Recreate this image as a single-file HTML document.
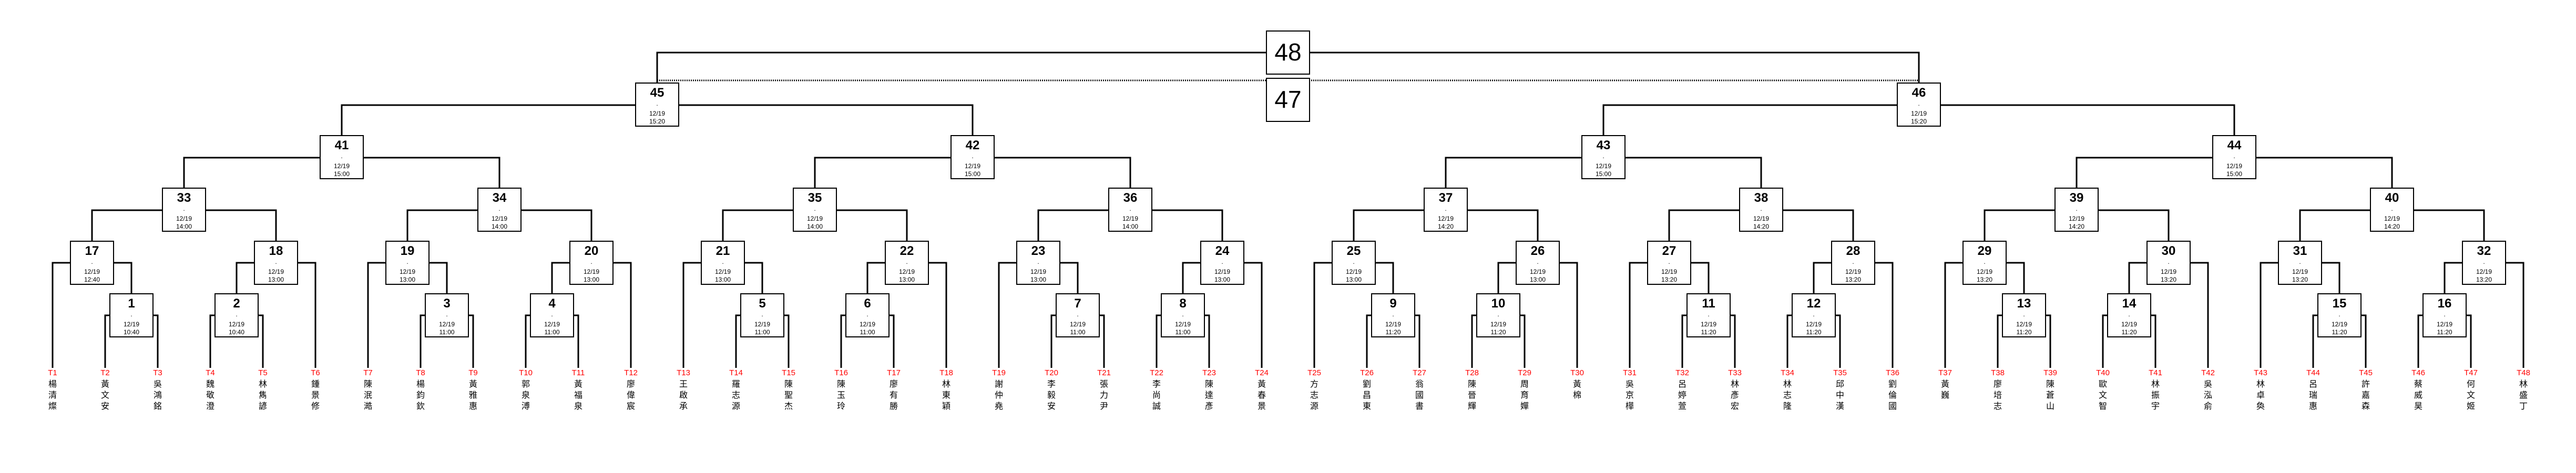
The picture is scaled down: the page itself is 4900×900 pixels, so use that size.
<!DOCTYPE html>
<html><head><meta charset="utf-8">
<style>
html,body{margin:0;padding:0;background:#fff;}
body{width:4900px;height:900px;position:relative;overflow:hidden;font-family:"Liberation Sans","Noto Sans CJK TC",sans-serif;}
svg{position:absolute;left:0;top:0;}
svg text{text-anchor:middle;font-family:"Liberation Sans",sans-serif;}
.n{font-size:24px;font-weight:bold;}
.s{font-size:12px;}
.t{font-size:15px;fill:#f00;}
.nm{position:absolute;top:719px;width:16px;font-size:16px;line-height:21px;text-align:center;font-family:"Noto Sans CJK TC","WenQuanYi Zen Hei",sans-serif;color:#000;}
</style></head><body>
<svg width="4900" height="900" xmlns="http://www.w3.org/2000/svg">
<g fill="none" stroke="#000" stroke-width="3">
<path d="M1250 158V100H3650V158"/>
<path d="M1250 153H3650" stroke-dasharray="2 2"/>
<path d="M650 258V200H1850V258M3050 258V200H4250V258"/>
<path d="M350 358V300H950V358M1550 358V300H2150V358M2750 358V300H3350V358M3950 358V300H4550V358"/>
<g id="gp"><path d="M200 700V600H300V700M400 700V600H500V700M100 700V500H250V559M450 559V500H600V700M175 459V400H525V459"/></g>
<g transform="translate(600,0)"><path d="M200 700V600H300V700M400 700V600H500V700M100 700V500H250V559M450 559V500H600V700M175 459V400H525V459"/></g>
<g transform="translate(1200,0)"><path d="M200 700V600H300V700M400 700V600H500V700M100 700V500H250V559M450 559V500H600V700M175 459V400H525V459"/></g>
<g transform="translate(1800,0)"><path d="M200 700V600H300V700M400 700V600H500V700M100 700V500H250V559M450 559V500H600V700M175 459V400H525V459"/></g>
<g transform="translate(2400,0)"><path d="M200 700V600H300V700M400 700V600H500V700M100 700V500H250V559M450 559V500H600V700M175 459V400H525V459"/></g>
<g transform="translate(3000,0)"><path d="M200 700V600H300V700M400 700V600H500V700M100 700V500H250V559M450 559V500H600V700M175 459V400H525V459"/></g>
<g transform="translate(3600,0)"><path d="M200 700V600H300V700M400 700V600H500V700M100 700V500H250V559M450 559V500H600V700M175 459V400H525V459"/></g>
<g transform="translate(4200,0)"><path d="M200 700V600H300V700M400 700V600H500V700M100 700V500H250V559M450 559V500H600V700M175 459V400H525V459"/></g>
</g>
<g>
<rect x="2409" y="59" width="82" height="82" fill="#fff" stroke="#000" stroke-width="2"/>
<text x="2450" y="115" font-size="46">48</text>
<rect x="2409" y="149" width="82" height="82" fill="#fff" stroke="#000" stroke-width="2"/>
<text x="2450" y="205" font-size="46">47</text>
</g>
<g id="boxes">
<g transform="translate(250,559)"><rect x="-41" width="82" height="82" fill="#fff" stroke="#000" stroke-width="2"/><text y="26" class="n">1</text><text y="43" class="s">.</text><text y="62" class="s">12/19</text><text y="77" class="s">10:40</text></g>
<g transform="translate(450,559)"><rect x="-41" width="82" height="82" fill="#fff" stroke="#000" stroke-width="2"/><text y="26" class="n">2</text><text y="43" class="s">.</text><text y="62" class="s">12/19</text><text y="77" class="s">10:40</text></g>
<g transform="translate(850,559)"><rect x="-41" width="82" height="82" fill="#fff" stroke="#000" stroke-width="2"/><text y="26" class="n">3</text><text y="43" class="s">.</text><text y="62" class="s">12/19</text><text y="77" class="s">11:00</text></g>
<g transform="translate(1050,559)"><rect x="-41" width="82" height="82" fill="#fff" stroke="#000" stroke-width="2"/><text y="26" class="n">4</text><text y="43" class="s">.</text><text y="62" class="s">12/19</text><text y="77" class="s">11:00</text></g>
<g transform="translate(1450,559)"><rect x="-41" width="82" height="82" fill="#fff" stroke="#000" stroke-width="2"/><text y="26" class="n">5</text><text y="43" class="s">.</text><text y="62" class="s">12/19</text><text y="77" class="s">11:00</text></g>
<g transform="translate(1650,559)"><rect x="-41" width="82" height="82" fill="#fff" stroke="#000" stroke-width="2"/><text y="26" class="n">6</text><text y="43" class="s">.</text><text y="62" class="s">12/19</text><text y="77" class="s">11:00</text></g>
<g transform="translate(2050,559)"><rect x="-41" width="82" height="82" fill="#fff" stroke="#000" stroke-width="2"/><text y="26" class="n">7</text><text y="43" class="s">.</text><text y="62" class="s">12/19</text><text y="77" class="s">11:00</text></g>
<g transform="translate(2250,559)"><rect x="-41" width="82" height="82" fill="#fff" stroke="#000" stroke-width="2"/><text y="26" class="n">8</text><text y="43" class="s">.</text><text y="62" class="s">12/19</text><text y="77" class="s">11:00</text></g>
<g transform="translate(2650,559)"><rect x="-41" width="82" height="82" fill="#fff" stroke="#000" stroke-width="2"/><text y="26" class="n">9</text><text y="43" class="s">.</text><text y="62" class="s">12/19</text><text y="77" class="s">11:20</text></g>
<g transform="translate(2850,559)"><rect x="-41" width="82" height="82" fill="#fff" stroke="#000" stroke-width="2"/><text y="26" class="n">10</text><text y="43" class="s">.</text><text y="62" class="s">12/19</text><text y="77" class="s">11:20</text></g>
<g transform="translate(3250,559)"><rect x="-41" width="82" height="82" fill="#fff" stroke="#000" stroke-width="2"/><text y="26" class="n">11</text><text y="43" class="s">.</text><text y="62" class="s">12/19</text><text y="77" class="s">11:20</text></g>
<g transform="translate(3450,559)"><rect x="-41" width="82" height="82" fill="#fff" stroke="#000" stroke-width="2"/><text y="26" class="n">12</text><text y="43" class="s">.</text><text y="62" class="s">12/19</text><text y="77" class="s">11:20</text></g>
<g transform="translate(3850,559)"><rect x="-41" width="82" height="82" fill="#fff" stroke="#000" stroke-width="2"/><text y="26" class="n">13</text><text y="43" class="s">.</text><text y="62" class="s">12/19</text><text y="77" class="s">11:20</text></g>
<g transform="translate(4050,559)"><rect x="-41" width="82" height="82" fill="#fff" stroke="#000" stroke-width="2"/><text y="26" class="n">14</text><text y="43" class="s">.</text><text y="62" class="s">12/19</text><text y="77" class="s">11:20</text></g>
<g transform="translate(4450,559)"><rect x="-41" width="82" height="82" fill="#fff" stroke="#000" stroke-width="2"/><text y="26" class="n">15</text><text y="43" class="s">.</text><text y="62" class="s">12/19</text><text y="77" class="s">11:20</text></g>
<g transform="translate(4650,559)"><rect x="-41" width="82" height="82" fill="#fff" stroke="#000" stroke-width="2"/><text y="26" class="n">16</text><text y="43" class="s">.</text><text y="62" class="s">12/19</text><text y="77" class="s">11:20</text></g>

<g transform="translate(175,459)"><rect x="-41" width="82" height="82" fill="#fff" stroke="#000" stroke-width="2"/><text y="26" class="n">17</text><text y="43" class="s">.</text><text y="62" class="s">12/19</text><text y="77" class="s">12:40</text></g>
<g transform="translate(525,459)"><rect x="-41" width="82" height="82" fill="#fff" stroke="#000" stroke-width="2"/><text y="26" class="n">18</text><text y="43" class="s">.</text><text y="62" class="s">12/19</text><text y="77" class="s">13:00</text></g>
<g transform="translate(775,459)"><rect x="-41" width="82" height="82" fill="#fff" stroke="#000" stroke-width="2"/><text y="26" class="n">19</text><text y="43" class="s">.</text><text y="62" class="s">12/19</text><text y="77" class="s">13:00</text></g>
<g transform="translate(1125,459)"><rect x="-41" width="82" height="82" fill="#fff" stroke="#000" stroke-width="2"/><text y="26" class="n">20</text><text y="43" class="s">.</text><text y="62" class="s">12/19</text><text y="77" class="s">13:00</text></g>
<g transform="translate(1375,459)"><rect x="-41" width="82" height="82" fill="#fff" stroke="#000" stroke-width="2"/><text y="26" class="n">21</text><text y="43" class="s">.</text><text y="62" class="s">12/19</text><text y="77" class="s">13:00</text></g>
<g transform="translate(1725,459)"><rect x="-41" width="82" height="82" fill="#fff" stroke="#000" stroke-width="2"/><text y="26" class="n">22</text><text y="43" class="s">.</text><text y="62" class="s">12/19</text><text y="77" class="s">13:00</text></g>
<g transform="translate(1975,459)"><rect x="-41" width="82" height="82" fill="#fff" stroke="#000" stroke-width="2"/><text y="26" class="n">23</text><text y="43" class="s">.</text><text y="62" class="s">12/19</text><text y="77" class="s">13:00</text></g>
<g transform="translate(2325,459)"><rect x="-41" width="82" height="82" fill="#fff" stroke="#000" stroke-width="2"/><text y="26" class="n">24</text><text y="43" class="s">.</text><text y="62" class="s">12/19</text><text y="77" class="s">13:00</text></g>
<g transform="translate(2575,459)"><rect x="-41" width="82" height="82" fill="#fff" stroke="#000" stroke-width="2"/><text y="26" class="n">25</text><text y="43" class="s">.</text><text y="62" class="s">12/19</text><text y="77" class="s">13:00</text></g>
<g transform="translate(2925,459)"><rect x="-41" width="82" height="82" fill="#fff" stroke="#000" stroke-width="2"/><text y="26" class="n">26</text><text y="43" class="s">.</text><text y="62" class="s">12/19</text><text y="77" class="s">13:00</text></g>
<g transform="translate(3175,459)"><rect x="-41" width="82" height="82" fill="#fff" stroke="#000" stroke-width="2"/><text y="26" class="n">27</text><text y="43" class="s">.</text><text y="62" class="s">12/19</text><text y="77" class="s">13:20</text></g>
<g transform="translate(3525,459)"><rect x="-41" width="82" height="82" fill="#fff" stroke="#000" stroke-width="2"/><text y="26" class="n">28</text><text y="43" class="s">.</text><text y="62" class="s">12/19</text><text y="77" class="s">13:20</text></g>
<g transform="translate(3775,459)"><rect x="-41" width="82" height="82" fill="#fff" stroke="#000" stroke-width="2"/><text y="26" class="n">29</text><text y="43" class="s">.</text><text y="62" class="s">12/19</text><text y="77" class="s">13:20</text></g>
<g transform="translate(4125,459)"><rect x="-41" width="82" height="82" fill="#fff" stroke="#000" stroke-width="2"/><text y="26" class="n">30</text><text y="43" class="s">.</text><text y="62" class="s">12/19</text><text y="77" class="s">13:20</text></g>
<g transform="translate(4375,459)"><rect x="-41" width="82" height="82" fill="#fff" stroke="#000" stroke-width="2"/><text y="26" class="n">31</text><text y="43" class="s">.</text><text y="62" class="s">12/19</text><text y="77" class="s">13:20</text></g>
<g transform="translate(4725,459)"><rect x="-41" width="82" height="82" fill="#fff" stroke="#000" stroke-width="2"/><text y="26" class="n">32</text><text y="43" class="s">.</text><text y="62" class="s">12/19</text><text y="77" class="s">13:20</text></g>

<g transform="translate(350,358)"><rect x="-41" width="82" height="82" fill="#fff" stroke="#000" stroke-width="2"/><text y="26" class="n">33</text><text y="43" class="s">.</text><text y="62" class="s">12/19</text><text y="77" class="s">14:00</text></g>
<g transform="translate(950,358)"><rect x="-41" width="82" height="82" fill="#fff" stroke="#000" stroke-width="2"/><text y="26" class="n">34</text><text y="43" class="s">.</text><text y="62" class="s">12/19</text><text y="77" class="s">14:00</text></g>
<g transform="translate(1550,358)"><rect x="-41" width="82" height="82" fill="#fff" stroke="#000" stroke-width="2"/><text y="26" class="n">35</text><text y="43" class="s">.</text><text y="62" class="s">12/19</text><text y="77" class="s">14:00</text></g>
<g transform="translate(2150,358)"><rect x="-41" width="82" height="82" fill="#fff" stroke="#000" stroke-width="2"/><text y="26" class="n">36</text><text y="43" class="s">.</text><text y="62" class="s">12/19</text><text y="77" class="s">14:00</text></g>
<g transform="translate(2750,358)"><rect x="-41" width="82" height="82" fill="#fff" stroke="#000" stroke-width="2"/><text y="26" class="n">37</text><text y="43" class="s">.</text><text y="62" class="s">12/19</text><text y="77" class="s">14:20</text></g>
<g transform="translate(3350,358)"><rect x="-41" width="82" height="82" fill="#fff" stroke="#000" stroke-width="2"/><text y="26" class="n">38</text><text y="43" class="s">.</text><text y="62" class="s">12/19</text><text y="77" class="s">14:20</text></g>
<g transform="translate(3950,358)"><rect x="-41" width="82" height="82" fill="#fff" stroke="#000" stroke-width="2"/><text y="26" class="n">39</text><text y="43" class="s">.</text><text y="62" class="s">12/19</text><text y="77" class="s">14:20</text></g>
<g transform="translate(4550,358)"><rect x="-41" width="82" height="82" fill="#fff" stroke="#000" stroke-width="2"/><text y="26" class="n">40</text><text y="43" class="s">.</text><text y="62" class="s">12/19</text><text y="77" class="s">14:20</text></g>

<g transform="translate(650,258)"><rect x="-41" width="82" height="82" fill="#fff" stroke="#000" stroke-width="2"/><text y="26" class="n">41</text><text y="43" class="s">.</text><text y="62" class="s">12/19</text><text y="77" class="s">15:00</text></g>
<g transform="translate(1850,258)"><rect x="-41" width="82" height="82" fill="#fff" stroke="#000" stroke-width="2"/><text y="26" class="n">42</text><text y="43" class="s">.</text><text y="62" class="s">12/19</text><text y="77" class="s">15:00</text></g>
<g transform="translate(3050,258)"><rect x="-41" width="82" height="82" fill="#fff" stroke="#000" stroke-width="2"/><text y="26" class="n">43</text><text y="43" class="s">.</text><text y="62" class="s">12/19</text><text y="77" class="s">15:00</text></g>
<g transform="translate(4250,258)"><rect x="-41" width="82" height="82" fill="#fff" stroke="#000" stroke-width="2"/><text y="26" class="n">44</text><text y="43" class="s">.</text><text y="62" class="s">12/19</text><text y="77" class="s">15:00</text></g>

<g transform="translate(1250,158)"><rect x="-41" width="82" height="82" fill="#fff" stroke="#000" stroke-width="2"/><text y="26" class="n">45</text><text y="43" class="s">.</text><text y="62" class="s">12/19</text><text y="77" class="s">15:20</text></g>
<g transform="translate(3650,158)"><rect x="-41" width="82" height="82" fill="#fff" stroke="#000" stroke-width="2"/><text y="26" class="n">46</text><text y="43" class="s">.</text><text y="62" class="s">12/19</text><text y="77" class="s">15:20</text></g>
</g>
<g class="t">
<text x="100" y="714" class="t">T1</text><text x="200" y="714" class="t">T2</text><text x="300" y="714" class="t">T3</text><text x="400" y="714" class="t">T4</text><text x="500" y="714" class="t">T5</text><text x="600" y="714" class="t">T6</text>
<text x="700" y="714" class="t">T7</text><text x="800" y="714" class="t">T8</text><text x="900" y="714" class="t">T9</text><text x="1000" y="714" class="t">T10</text><text x="1100" y="714" class="t">T11</text><text x="1200" y="714" class="t">T12</text>
<text x="1300" y="714" class="t">T13</text><text x="1400" y="714" class="t">T14</text><text x="1500" y="714" class="t">T15</text><text x="1600" y="714" class="t">T16</text><text x="1700" y="714" class="t">T17</text><text x="1800" y="714" class="t">T18</text>
<text x="1900" y="714" class="t">T19</text><text x="2000" y="714" class="t">T20</text><text x="2100" y="714" class="t">T21</text><text x="2200" y="714" class="t">T22</text><text x="2300" y="714" class="t">T23</text><text x="2400" y="714" class="t">T24</text>
<text x="2500" y="714" class="t">T25</text><text x="2600" y="714" class="t">T26</text><text x="2700" y="714" class="t">T27</text><text x="2800" y="714" class="t">T28</text><text x="2900" y="714" class="t">T29</text><text x="3000" y="714" class="t">T30</text>
<text x="3100" y="714" class="t">T31</text><text x="3200" y="714" class="t">T32</text><text x="3300" y="714" class="t">T33</text><text x="3400" y="714" class="t">T34</text><text x="3500" y="714" class="t">T35</text><text x="3600" y="714" class="t">T36</text>
<text x="3700" y="714" class="t">T37</text><text x="3800" y="714" class="t">T38</text><text x="3900" y="714" class="t">T39</text><text x="4000" y="714" class="t">T40</text><text x="4100" y="714" class="t">T41</text><text x="4200" y="714" class="t">T42</text>
<text x="4300" y="714" class="t">T43</text><text x="4400" y="714" class="t">T44</text><text x="4500" y="714" class="t">T45</text><text x="4600" y="714" class="t">T46</text><text x="4700" y="714" class="t">T47</text><text x="4800" y="714" class="t">T48</text>
</g>
</svg>
<div class="nm" style="left:92px">楊<br>清<br>燦</div>
<div class="nm" style="left:192px">黃<br>文<br>安</div>
<div class="nm" style="left:292px">吳<br>鴻<br>銘</div>
<div class="nm" style="left:392px">魏<br>敬<br>澄</div>
<div class="nm" style="left:492px">林<br>雋<br>諺</div>
<div class="nm" style="left:592px">鍾<br>景<br>修</div>
<div class="nm" style="left:692px">陳<br>泯<br>澔</div>
<div class="nm" style="left:792px">楊<br>鈞<br>欽</div>
<div class="nm" style="left:892px">黃<br>雅<br>惠</div>
<div class="nm" style="left:992px">郭<br>泉<br>溥</div>
<div class="nm" style="left:1092px">黃<br>福<br>泉</div>
<div class="nm" style="left:1192px">廖<br>偉<br>宸</div>
<div class="nm" style="left:1292px">王<br>啟<br>承</div>
<div class="nm" style="left:1392px">羅<br>志<br>源</div>
<div class="nm" style="left:1492px">陳<br>聖<br>杰</div>
<div class="nm" style="left:1592px">陳<br>玉<br>玲</div>
<div class="nm" style="left:1692px">廖<br>有<br>勝</div>
<div class="nm" style="left:1792px">林<br>東<br>穎</div>
<div class="nm" style="left:1892px">謝<br>仲<br>堯</div>
<div class="nm" style="left:1992px">李<br>毅<br>安</div>
<div class="nm" style="left:2092px">張<br>力<br>尹</div>
<div class="nm" style="left:2192px">李<br>尚<br>誠</div>
<div class="nm" style="left:2292px">陳<br>達<br>彥</div>
<div class="nm" style="left:2392px">黃<br>春<br>景</div>
<div class="nm" style="left:2492px">方<br>志<br>源</div>
<div class="nm" style="left:2592px">劉<br>昌<br>東</div>
<div class="nm" style="left:2692px">翁<br>國<br>書</div>
<div class="nm" style="left:2792px">陳<br>晉<br>輝</div>
<div class="nm" style="left:2892px">周<br>育<br>嬋</div>
<div class="nm" style="left:2992px">黃<br>棉</div>
<div class="nm" style="left:3092px">吳<br>京<br>樺</div>
<div class="nm" style="left:3192px">呂<br>婷<br>萱</div>
<div class="nm" style="left:3292px">林<br>彥<br>宏</div>
<div class="nm" style="left:3392px">林<br>志<br>隆</div>
<div class="nm" style="left:3492px">邱<br>中<br>漢</div>
<div class="nm" style="left:3592px">劉<br>倫<br>國</div>
<div class="nm" style="left:3692px">黃<br>巍</div>
<div class="nm" style="left:3792px">廖<br>培<br>志</div>
<div class="nm" style="left:3892px">陳<br>蒼<br>山</div>
<div class="nm" style="left:3992px">歐<br>文<br>智</div>
<div class="nm" style="left:4092px">林<br>振<br>宇</div>
<div class="nm" style="left:4192px">吳<br>泓<br>俞</div>
<div class="nm" style="left:4292px">林<br>卓<br>奐</div>
<div class="nm" style="left:4392px">呂<br>瑞<br>惠</div>
<div class="nm" style="left:4492px">許<br>嘉<br>森</div>
<div class="nm" style="left:4592px">蔡<br>威<br>昊</div>
<div class="nm" style="left:4692px">何<br>文<br>姬</div>
<div class="nm" style="left:4792px">林<br>盛<br>丁</div>
</body></html>
